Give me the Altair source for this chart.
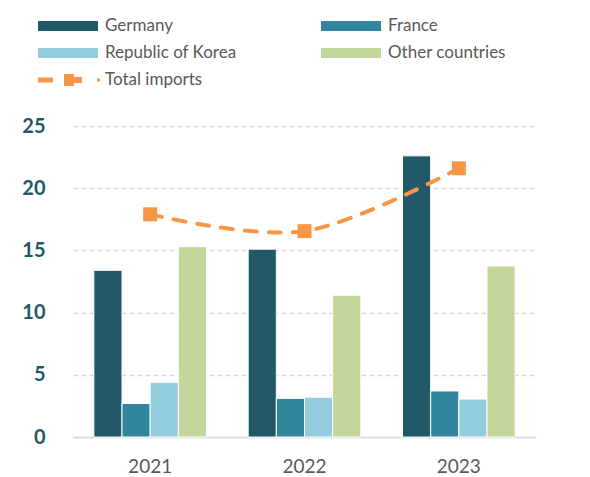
import altair as alt
import pandas as pd

years = ["2021", "2022", "2023"]
countries = ["Germany", "France", "Republic of Korea", "Other countries"]
germany = [13.4, 15.1, 22.6]
france = [2.7, 3.1, 3.7]
korea = [4.4, 3.2, 3.05]
other = [15.3, 11.4, 13.75]
total = [35.8, 33.1, 43.2]
colors = ["#215968", "#31859C", "#93CDDD", "#C3D69B"]
orange = "#F79646"
font = "Lato"

rows = []
for c, vals in zip(countries, [germany, france, korea, other]):
    for y, v in zip(years, vals):
        rows.append({"year": y, "country": c, "value": v})
bars_df = pd.DataFrame(rows)
line_df = pd.DataFrame({"year": years, "total": total, "series": ["Total imports"] * 3})

xscale = alt.Scale(domain=years, paddingInner=0.27, paddingOuter=0.135)
xaxis = alt.Axis(title=None, labelAngle=0, labelFontSize=19, labelColor="#595959",
                 labelFont=font, domainColor="#D9D9D9", domainWidth=1.5, ticks=False,
                 labelPadding=20, grid=False)
x = alt.X("year:N", scale=xscale, axis=xaxis)

legend_common = dict(title=None, orient="none", direction="horizontal", symbolSize=400,
                     symbolStrokeWidth=0, labelOffset=47, labelFontSize=17,
                     labelColor="#595959", labelFont=font)

bars = alt.Chart(bars_df).mark_bar(stroke="white", strokeWidth=1).encode(
    x=x,
    xOffset=alt.XOffset("country:N", sort=countries, scale=alt.Scale(domain=countries, paddingInner=0.0)),
    y=alt.Y("value:Q", scale=alt.Scale(domain=[0, 25]),
            axis=alt.Axis(title=None, values=[0, 5, 10, 15, 20, 25], labelFontSize=20,
                          labelFontWeight="bold", labelColor="#215968", labelFont=font,
                          grid=True, gridDash=[5, 3], gridColor="#D9D9D9", gridWidth=1.5,
                          domain=False, ticks=False, labelPadding=28)),
    color=alt.Color("country:N", sort=countries,
                    scale=alt.Scale(domain=countries, range=colors),
                    legend=alt.Legend(legendX=-35, legendY=-110, columns=2,
                                      columnPadding=84, rowPadding=9,
                                      symbolType="M-1,-0.5H5V0.5H-1Z", **legend_common)),
)

yright = alt.Scale(domain=[0, 50])
line = alt.Chart(line_df).mark_line(color=orange, strokeWidth=4, strokeDash=[12, 12],
                                    strokeCap="round", interpolate="cardinal").encode(
    x=x,
    y=alt.Y("total:Q", scale=yright,
            axis=alt.Axis(title=None, orient="right", values=[0, 10, 20, 30, 40, 50],
                          labelFontSize=20, labelFontWeight="bold", labelColor=orange,
                          labelFont=font, grid=False, domain=False, ticks=False,
                          labelPadding=24)),
)
points = alt.Chart(line_df).mark_square(size=196, opacity=1, filled=True).encode(
    x=x,
    y=alt.Y("total:Q", scale=yright, axis=None),
    color=alt.Color("series:N", scale=alt.Scale(range=[orange]),
                    legend=alt.Legend(legendX=-35, legendY=-56,
                                      symbolType="M-1,-0.25H0.5V0.25H-1Z M1.6,-0.6H2.6V0.6H1.6Z M2.6,-0.3H3.4V0.3H2.6Z M4.9,-0.15H5.2V0.15H4.9Z",
                                      **legend_common)),
)

right = alt.layer(line, points)
chart = alt.layer(bars, right).resolve_scale(y="independent", color="independent").properties(
    width=463, height=311,
    autosize=alt.AutoSizeParams(type="none"),
    padding={"left": 65, "top": 118, "right": 46, "bottom": 45},
).configure_view(stroke=None)

chart.save("out.html", embed_options={"renderer": "svg", "actions": False})
